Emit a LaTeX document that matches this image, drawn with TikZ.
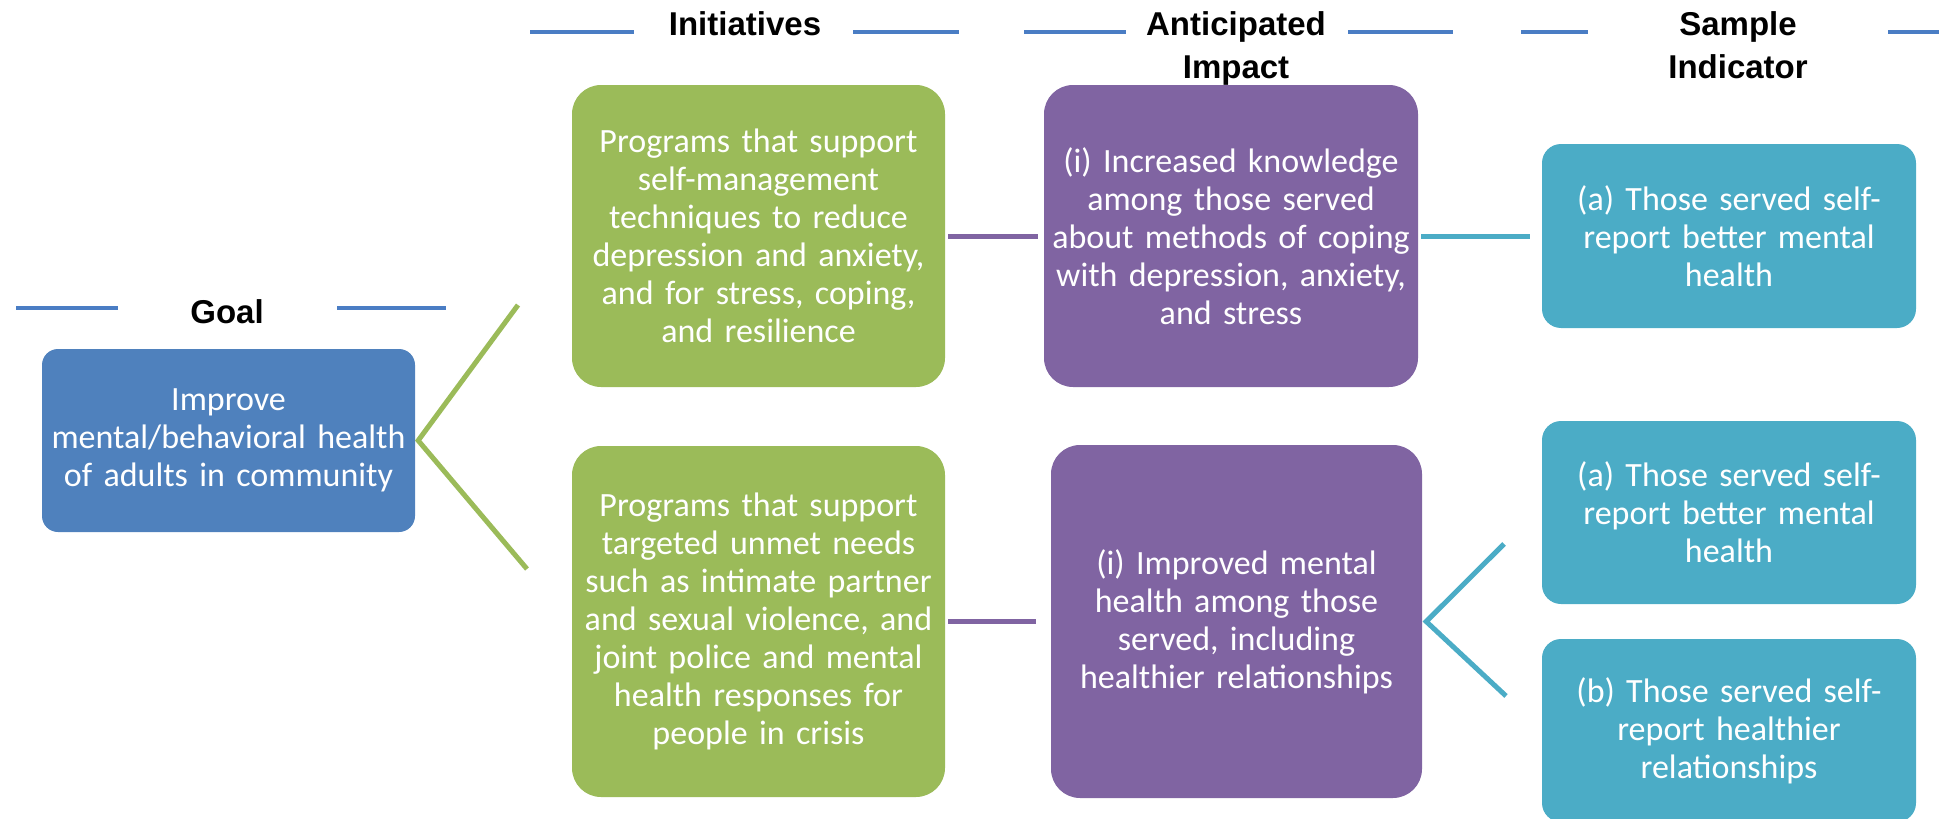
\documentclass[tikz,border=0pt]{standalone}
\usepackage{fontspec}
\setmainfont{Carlito}
\newfontfamily\hdrfont{Liberation Sans}
\newcommand\bxfont{\fontsize{34}{38}\selectfont}
\newcommand\hdfont{\hdrfont\bfseries\fontsize{33}{43}\selectfont}
\definecolor{goalblue}{HTML}{4F81BD}
\definecolor{initgreen}{HTML}{9BBB59}
\definecolor{imppurple}{HTML}{8064A2}
\definecolor{indteal}{HTML}{4BACC6}
\definecolor{hdrblue}{HTML}{4A7DC4}
\begin{document}
\begin{tikzpicture}[x=1pt,y=-1pt,
  boxbase/.style={inner sep=0pt, text=white, align=center, font=\bxfont},
  goalbox/.style={boxbase, fill=goalblue, rounded corners=16pt},
  gbox/.style={boxbase, fill=initgreen, rounded corners=29pt},
  pbox/.style={boxbase, fill=imppurple, rounded corners=29pt},
  tbox/.style={boxbase, fill=indteal, rounded corners=19pt},
  hdr/.style={anchor=base, align=center, font=\hdfont, text=black, inner sep=0pt, text width=300pt},
  hline/.style={draw=hdrblue, line width=4pt},
  gline/.style={draw=initgreen, line width=5pt},
  pline/.style={draw=imppurple, line width=5pt},
  tline/.style={draw=indteal, line width=5pt}]
\useasboundingbox (0,0) rectangle (1939,819);

% header rules
\draw[hline] (530,32) -- (634,32);
\draw[hline] (853,32) -- (959,32);
\draw[hline] (1024,32) -- (1126,32);
\draw[hline] (1348,32) -- (1453,32);
\draw[hline] (1521,32) -- (1588,32);
\draw[hline] (1888,32) -- (1939,32);
\draw[hline] (16,308) -- (118,308);
\draw[hline] (337,308) -- (446,308);

% headers
\node[hdr] (hgoal) at (227,323) {Goal};
\node[hdr] (hinit) at (745,35) {Initiatives};
\node[hdr] (himp) at (1236,35) {Anticipated\\Impact};
\node[hdr] (hind) at (1738,35) {Sample\\Indicator};

% boxes
\node[goalbox, text width=373pt, minimum height=183pt] (goal) at (228.5,440.5)
  {Improve\\mental/behavioral health\\of adults in community};
\node[gbox, text width=373pt, minimum height=302pt] (g1) at (758.5,236)
  {Programs that support\\self-management\\techniques to reduce\\depression and anxiety,\\and for stress, coping,\\and resilience};
\node[gbox, text width=373pt, minimum height=351pt] (g2) at (758.5,621.5)
  {Programs that support\\targeted unmet needs\\such as intimate partner\\and sexual violence, and\\joint police and mental\\health responses for\\people in crisis};
\node[pbox, text width=374pt, minimum height=302pt] (p1) at (1231,236)
  {(i) Increased knowledge\\among those served\\about methods of coping\\with depression, anxiety,\\and stress};
\node[pbox, text width=371pt, minimum height=353pt] (p2) at (1236.5,621.5)
  {(i) Improved mental\\health among those\\served, including\\healthier relationships};
\node[tbox, text width=374pt, minimum height=184pt] (t1) at (1729,236)
  {(a) Those served self-\\report better mental\\health};
\node[tbox, text width=374pt, minimum height=183pt] (t2) at (1729,512.5)
  {(a) Those served self-\\report better mental\\health};
\node[tbox, text width=374pt, minimum height=183pt] (t3) at (1729,730.5)
  {(b) Those served self-\\report healthier\\relationships};

% connectors
\coordinate (gt) at (518,305);
\coordinate (gb) at (527,569);
\draw[gline] (gt) -- ([xshift=3pt]goal.east) -- (gb);
\draw[pline] ([xshift=3pt]g1.east) -- ([xshift=-6pt]p1.west);
\draw[tline] ([xshift=3pt]p1.east) -- ([xshift=-12pt]t1.west);
\draw[pline] ([xshift=3pt]g2.east) -- ([xshift=-15pt]p2.west);
\coordinate (tt) at (1504,544);
\coordinate (tb) at (1506,696);
\draw[tline] (tt) -- ([xshift=4pt]p2.east) -- (tb);
\end{tikzpicture}
\end{document}
